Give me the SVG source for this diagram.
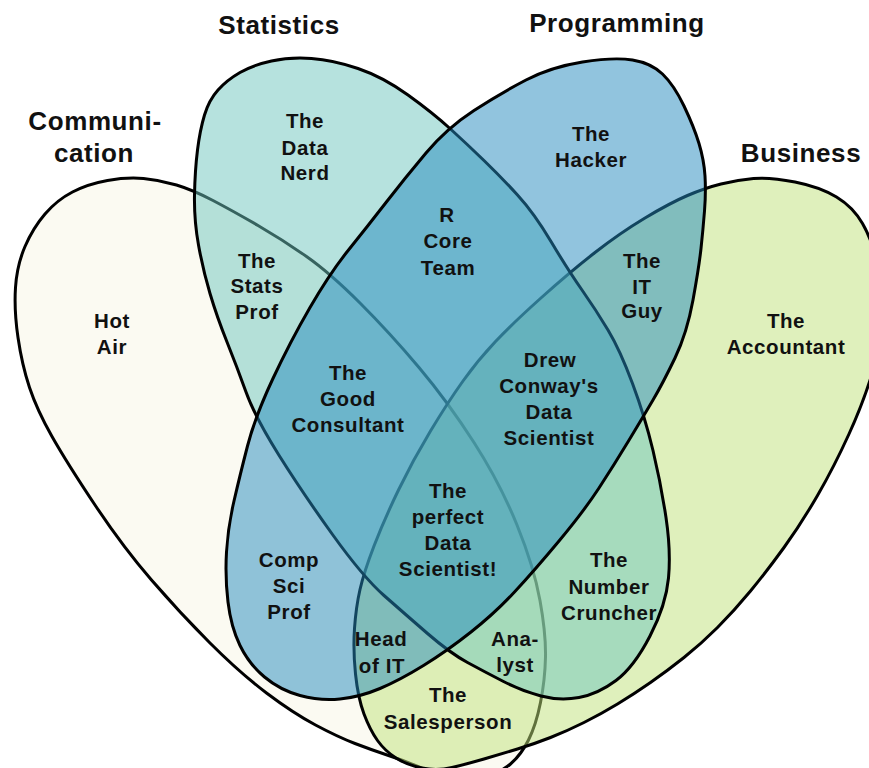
<svg xmlns="http://www.w3.org/2000/svg" width="869" height="768" viewBox="0 0 869 768">
<style>
.set{stroke:#000;stroke-width:3;stroke-linejoin:round}
.title{font-family:"Liberation Sans",Arial,sans-serif;font-weight:bold;font-size:26px;letter-spacing:0.6px;fill:#111;text-anchor:middle}
.lbl{font-family:"Liberation Sans",Arial,sans-serif;font-weight:bold;font-size:20.5px;letter-spacing:0.6px;fill:#111;text-anchor:middle}
</style>
<rect width="869" height="768" fill="#fff"/>
<g id="communication">
<path class="set" fill="#fbfaf2" d="M107.5,180.5 Q127,177 143.5,178.5 Q160,180 176.5,185 Q193,190 213,200.5 Q233,211 258,225.5 Q283,240 306.5,256.5 Q330,273 360,303 Q390,333 419,367.5 Q448,402 474,442.5 Q500,483 517,525 Q534,567 540,600.5 Q546,634 545.5,657 Q545,680 540.5,702.5 Q536,725 528.5,740 Q521,755 510.5,764 Q500,773 482.5,776.5 Q465,780 449,776.5 Q433,773 419,767 Q405,761 388.5,755.5 Q372,750 355,743.5 Q338,737 315.5,725 Q293,713 266.5,693 Q240,673 210,643 Q180,613 151.5,580 Q123,547 95,505 Q67,463 52,436.5 Q37,410 29.5,387.5 Q22,365 18,337.5 Q14,310 15.5,287.5 Q17,265 25,246.5 Q33,228 45,214 Q57,200 72.5,192 Q88,184 107.5,180.5 Z"/>
<text class="title" x="95" y="130">Communi-</text>
<text class="title" x="94" y="162">cation</text>
</g>
<g id="business">
<path class="set" fill="#bfe179" fill-opacity="0.5" d="M753.5,178.5 Q770,177 795,182 Q820,187 836.5,197 Q853,207 862.5,223.5 Q872,240 878,265 Q884,290 883,315 Q882,340 873,370.5 Q864,401 849,434 Q834,467 817.5,495.5 Q801,524 784,547.5 Q767,571 750.5,591 Q734,611 717.5,627.5 Q701,644 684,657.5 Q667,671 650.5,682.5 Q634,694 617.5,704 Q601,714 584,722.5 Q567,731 550.5,737.5 Q534,744 517.5,749 Q501,754 484,759 Q467,764 452,767.5 Q437,771 422,768 Q407,765 396,758 Q385,751 377.5,740.5 Q370,730 364,714 Q358,698 355.5,674 Q353,650 354.5,628.5 Q356,607 360,589.5 Q364,572 374,546 Q384,520 398.5,490 Q413,460 430.5,431 Q448,402 463,381 Q478,360 495.5,341.5 Q513,323 541.5,297.5 Q570,272 595,252.5 Q620,233 645,218 Q670,203 687.5,195.5 Q705,188 721,184 Q737,180 753.5,178.5 Z"/>
<text class="title" x="801" y="162">Business</text>
</g>
<g id="statistics">
<path class="set" fill="#6dc5bd" fill-opacity="0.5" d="M271.5,61 Q290,57 311.5,58.5 Q333,60 358,68.5 Q383,77 408,95 Q433,113 450.5,129 Q468,145 484.5,161 Q501,177 517.5,195 Q534,213 551,241.5 Q568,270 582,290 Q596,310 608,330 Q620,350 632.5,383.5 Q645,417 653,450.5 Q661,484 666,517.5 Q671,551 668.5,578 Q666,605 650,636 Q634,667 616,680.5 Q598,694 579,697.5 Q560,701 541,696 Q522,691 503.5,681.5 Q485,672 467.5,662.5 Q450,653 427.5,633.5 Q405,614 384,595.5 Q363,577 332.5,534.5 Q302,492 278.5,454.5 Q255,417 246,392 Q237,367 227,342 Q217,317 210,293.5 Q203,270 198.5,245 Q194,220 194.5,195 Q195,170 197.5,150 Q200,130 204.5,115 Q209,100 218,90 Q227,80 240,72.5 Q253,65 271.5,61 Z"/>
<text class="title" x="279" y="34">Statistics</text>
</g>
<g id="programming">
<path class="set" fill="#2389bd" fill-opacity="0.5" d="M582.5,62 Q614,57 632.5,60 Q651,63 662.5,74 Q674,85 684,106 Q694,127 699,143.5 Q704,160 705,176 Q706,192 704.5,211 Q703,230 701,248.5 Q699,267 693,300 Q687,333 675,358 Q663,383 653,400 Q643,417 628.5,441 Q614,465 599,488 Q584,511 559,541 Q534,571 514.5,592 Q495,613 471,632 Q447,651 423.5,665.5 Q400,680 380,688.5 Q360,697 340,699 Q320,701 300,695.5 Q280,690 264.5,677 Q249,664 240,645.5 Q231,627 228,602 Q225,577 226.5,552 Q228,527 234,501 Q240,475 247.5,446 Q255,417 272.5,379.5 Q290,342 310,307.5 Q330,273 348.5,250 Q367,227 386,202.5 Q405,178 426,153 Q447,128 474,110.5 Q501,93 526,80 Q551,67 582.5,62 Z"/>
<text class="title" x="617" y="32">Programming</text>
</g>
<g id="connectors"/>
<g id="labels">
<text class="lbl" x="305" y="128">The</text>
<text class="lbl" x="305" y="155">Data</text>
<text class="lbl" x="305" y="180">Nerd</text>
<text class="lbl" x="591" y="141">The</text>
<text class="lbl" x="591" y="167">Hacker</text>
<text class="lbl" x="447" y="222">R</text>
<text class="lbl" x="448" y="248">Core</text>
<text class="lbl" x="448" y="275">Team</text>
<text class="lbl" x="257" y="268">The</text>
<text class="lbl" x="257" y="293">Stats</text>
<text class="lbl" x="257" y="319">Prof</text>
<text class="lbl" x="642" y="268">The</text>
<text class="lbl" x="642" y="294">IT</text>
<text class="lbl" x="642" y="318">Guy</text>
<text class="lbl" x="112" y="328">Hot</text>
<text class="lbl" x="112" y="354">Air</text>
<text class="lbl" x="786" y="328">The</text>
<text class="lbl" x="786" y="354">Accountant</text>
<text class="lbl" x="348" y="380">The</text>
<text class="lbl" x="348" y="406">Good</text>
<text class="lbl" x="348" y="432">Consultant</text>
<text class="lbl" x="550" y="367">Drew</text>
<text class="lbl" x="549" y="393">Conway's</text>
<text class="lbl" x="549" y="419">Data</text>
<text class="lbl" x="549" y="445">Scientist</text>
<text class="lbl" x="448" y="498">The</text>
<text class="lbl" x="448" y="524">perfect</text>
<text class="lbl" x="448" y="550">Data</text>
<text class="lbl" x="448" y="576">Scientist!</text>
<text class="lbl" x="289" y="567">Comp</text>
<text class="lbl" x="289" y="593">Sci</text>
<text class="lbl" x="289" y="619">Prof</text>
<text class="lbl" x="609" y="567">The</text>
<text class="lbl" x="609" y="594">Number</text>
<text class="lbl" x="609" y="620">Cruncher</text>
<text class="lbl" x="381" y="646">Head</text>
<text class="lbl" x="382" y="673">of IT</text>
<text class="lbl" x="515" y="646">Ana-</text>
<text class="lbl" x="515" y="672">lyst</text>
<text class="lbl" x="448" y="702">The</text>
<text class="lbl" x="448" y="729">Salesperson</text>
</g>
</svg>
